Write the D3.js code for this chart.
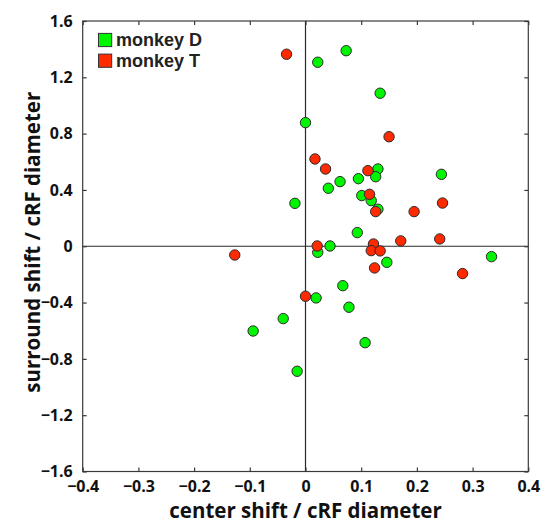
<!DOCTYPE html>
<html>
<head>
<meta charset="utf-8">
<script src="https://cdn.jsdelivr.net/npm/d3@7"></script>
<style>
  html, body { margin: 0; padding: 0; background: #fff; }
  svg { display: block; }
  text { font-family: "Open Sans", "Noto Sans", sans-serif; }
</style>
</head>
<body>
<svg id="chart" width="549" height="524"></svg>
<script>
// Center and surround shifts, normalised by cRF diameter
const monkeyDx = [0.000, 0.022, 0.073, 0.134, 0.130, 0.244, 0.126, 0.062, 0.095, 0.041, -0.019, 0.101, 0.118,
                  0.130, 0.093, 0.022, 0.044, 0.146, 0.334, 0.067, 0.019, 0.078, -0.040, -0.094, -0.015, 0.107];
const monkeyDy = [0.878, 1.307, 1.389, 1.087, 0.549, 0.511, 0.494, 0.459, 0.480, 0.412, 0.305, 0.360, 0.324,
                  0.263, 0.097, -0.043, 0.002, -0.114, -0.074, -0.280, -0.367, -0.433, -0.514, -0.602, -0.888, -0.685];
const monkeyTx = [-0.034, 0.150, 0.017, 0.036, 0.112, 0.115, 0.126, 0.195, 0.246, 0.171, 0.241, 0.021, 0.122,
                  0.118, 0.134, 0.124, 0.282, 0.000, -0.127];
const monkeyTy = [1.364, 0.778, 0.620, 0.549, 0.537, 0.369, 0.246, 0.246, 0.307, 0.038, 0.052, 0.002, 0.016,
                  -0.031, -0.033, -0.154, -0.194, -0.355, -0.062];

const xTicks = [-0.4, -0.3, -0.2, -0.1, 0, 0.1, 0.2, 0.3, 0.4];
const yTicks = [-1.6, -1.2, -0.8, -0.4, 0, 0.4, 0.8, 1.2, 1.6];
const seriesNames = ["monkey D", "monkey T"];
const seriesColors = ["#00f500", "#ff2a00"];

const svg = d3.select("#chart");
const plotLeft = 82.7, plotRight = 528.3, plotTop = 21, plotBottom = 471.5;

const x = d3.scaleLinear().domain([-0.4, 0.4]).range([plotLeft, plotRight]);
const y = d3.scaleLinear().domain([-1.6, 1.6]).range([plotBottom, plotTop]);
const fmt = d => d === 0 ? "0" : d3.format(".1f")(d);
const axisColor = "#3a3a3a";

// Frame
svg.append("rect")
  .attr("x", plotLeft).attr("y", plotTop)
  .attr("width", plotRight - plotLeft).attr("height", plotBottom - plotTop)
  .attr("fill", "none").attr("stroke", axisColor).attr("stroke-width", 1.2);

// Zero reference lines
svg.append("line")
  .attr("x1", x(0)).attr("x2", x(0)).attr("y1", plotTop).attr("y2", plotBottom)
  .attr("stroke", "#2a2a2a").attr("stroke-width", 1.2);
svg.append("line")
  .attr("x1", plotLeft).attr("x2", plotRight).attr("y1", y(0)).attr("y2", y(0))
  .attr("stroke", "#2a2a2a").attr("stroke-width", 1.2);

function styleAxis(g, showText) {
  g.select(".domain").remove();
  g.selectAll(".tick line").attr("stroke", axisColor).attr("stroke-width", 1.2);
  g.selectAll(".tick text")
    .attr("fill", "#111")
    .style("font-size", "16px")
    .style("font-weight", "700")
    .style("display", showText ? null : "none");
}

svg.append("g").attr("transform", `translate(0,${plotBottom})`)
  .call(d3.axisBottom(x).tickValues(xTicks).tickFormat(fmt).tickSizeInner(-4).tickSizeOuter(0).tickPadding(9))
  .call(g => styleAxis(g, true));
svg.append("g").attr("transform", `translate(0,${plotTop})`)
  .call(d3.axisTop(x).tickValues(xTicks).tickSizeInner(-4).tickSizeOuter(0))
  .call(g => styleAxis(g, false));
svg.append("g").attr("transform", `translate(${plotLeft},0)`)
  .call(d3.axisLeft(y).tickValues(yTicks).tickFormat(fmt).tickSizeInner(-4).tickSizeOuter(0).tickPadding(10))
  .call(g => styleAxis(g, true));
svg.append("g").attr("transform", `translate(${plotRight},0)`)
  .call(d3.axisRight(y).tickValues(yTicks).tickSizeInner(-4).tickSizeOuter(0))
  .call(g => styleAxis(g, false));

// Points
const series = [
  d3.zip(monkeyDx, monkeyDy),
  d3.zip(monkeyTx, monkeyTy)
];
series.forEach((pts, i) => {
  svg.append("g").selectAll("circle").data(pts).join("circle")
    .attr("cx", d => x(d[0])).attr("cy", d => y(d[1]))
    .attr("r", 5.2)
    .attr("fill", seriesColors[i])
    .attr("stroke", "#2b2b2b").attr("stroke-width", 1);
});

// Legend
const legendY0 = 40, legendStep = 20.7;
const legend = svg.append("g");
legend.selectAll("rect").data(seriesNames).join("rect")
  .attr("x", 98.5).attr("y", (d, i) => legendY0 + i * legendStep - 6.6)
  .attr("width", 13.2).attr("height", 13.2)
  .attr("fill", (d, i) => seriesColors[i]).attr("stroke", "#333").attr("stroke-width", 1);
legend.selectAll("text").data(seriesNames).join("text")
  .attr("x", 116).attr("y", (d, i) => legendY0 + i * legendStep).attr("dy", "0.36em")
  .style("font-family", "'Liberation Sans', Arial, sans-serif")
  .style("font-size", "18px").style("font-weight", "700").attr("fill", "#222")
  .text(d => d);

// Axis titles
svg.append("text")
  .attr("x", (plotLeft + plotRight) / 2).attr("y", 518)
  .attr("text-anchor", "middle")
  .style("font-size", "20.5px").style("font-weight", "700").attr("fill", "#111")
  .text("center shift / cRF diameter");
svg.append("text")
  .attr("transform", `translate(40,${(plotTop + plotBottom) / 2 - 4}) rotate(-90)`)
  .attr("text-anchor", "middle")
  .style("font-size", "20.5px").style("font-weight", "700").attr("fill", "#111")
  .text("surround shift / cRF diameter");
</script>
</body>
</html>
